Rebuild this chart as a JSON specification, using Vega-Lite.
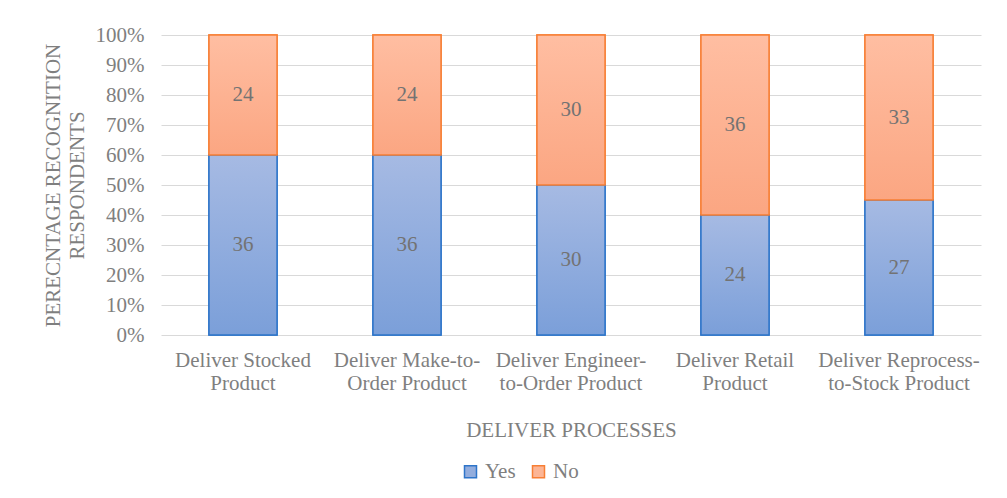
{
  "$schema": "https://vega.github.io/schema/vega-lite/v6.json",
  "width": 820,
  "height": 300,
  "autosize": {"type": "none"},
  "padding": {"left": 161, "top": 35, "right": 26, "bottom": 163},
  "background": "white",
  "config": {
    "view": {"stroke": null},
    "font": "Liberation Serif",
    "axis": {
      "labelFont": "Liberation Serif",
      "titleFont": "Liberation Serif",
      "labelColor": "#7f7f7f",
      "titleColor": "#7f7f7f",
      "labelFontSize": 21,
      "titleFontSize": 21,
      "titleFontWeight": "normal",
      "labelOverlap": false,
      "labelSeparation": 0
    },
    "axisY": {"labelOverlap": false, "labelSeparation": 0},
    "legend": {
      "labelFont": "Liberation Serif",
      "labelFontSize": 21,
      "labelColor": "#7f7f7f"
    }
  },
  "data": {
    "values": [
      {"process": "Deliver Stocked Product", "answer": "Yes", "value": 36},
      {"process": "Deliver Stocked Product", "answer": "No", "value": 24},
      {"process": "Deliver Make-to-Order Product", "answer": "Yes", "value": 36},
      {"process": "Deliver Make-to-Order Product", "answer": "No", "value": 24},
      {"process": "Deliver Engineer-to-Order Product", "answer": "Yes", "value": 30},
      {"process": "Deliver Engineer-to-Order Product", "answer": "No", "value": 30},
      {"process": "Deliver Retail Product", "answer": "Yes", "value": 24},
      {"process": "Deliver Retail Product", "answer": "No", "value": 36},
      {"process": "Deliver Reprocess-to-Stock Product", "answer": "Yes", "value": 27},
      {"process": "Deliver Reprocess-to-Stock Product", "answer": "No", "value": 33}
    ]
  },
  "transform": [
    {"stack": "value", "groupby": ["process"], "sort": [{"field": "answer", "order": "descending"}], "offset": "normalize", "as": ["y0", "y1"]}
  ],
  "encoding": {
    "x": {
      "field": "process",
      "type": "nominal",
      "sort": ["Deliver Stocked Product", "Deliver Make-to-Order Product", "Deliver Engineer-to-Order Product", "Deliver Retail Product", "Deliver Reprocess-to-Stock Product"],
      "scale": {"paddingInner": 0.585, "paddingOuter": 0.2925},
      "title": "DELIVER PROCESSES",
      "axis": {
        "labelAngle": 0,
        "domain": false,
        "ticks": false,
        "labelPadding": 14,
        "labelLineHeight": 23,
        "titlePadding": 26,
        "labelExpr": "datum.value == 'Deliver Stocked Product' ? ['Deliver Stocked', 'Product'] : datum.value == 'Deliver Make-to-Order Product' ? ['Deliver Make-to-', 'Order Product'] : datum.value == 'Deliver Engineer-to-Order Product' ? ['Deliver Engineer-', 'to-Order Product'] : datum.value == 'Deliver Retail Product' ? ['Deliver Retail', 'Product'] : ['Deliver Reprocess-', 'to-Stock Product']"
      }
    },
    "y": {
      "field": "y0",
      "type": "quantitative",
      "scale": {"domain": [0, 1], "nice": false},
      "title": ["PERECNTAGE RECOGNITION", "RESPONDENTS"],
      "axis": {
        "format": ".0%",
        "values": [0, 0.1, 0.2, 0.3, 0.4, 0.5, 0.6, 0.7, 0.8, 0.9, 1],
        "domain": false,
        "ticks": false,
        "labelPadding": 17,
        "labelBaseline": "middle",
        "gridColor": "#d9d9d9",
        "gridWidth": 1,
        "titlePadding": 8,
        "titleLineHeight": 24
      }
    }
  },
  "layer": [
    {
      "mark": {"type": "bar", "strokeWidth": 1.5},
      "encoding": {
        "y2": {"field": "y1"},
        "fill": {
          "field": "answer",
          "type": "nominal",
          "scale": {"domain": ["Yes", "No"], "range": ["#93addd", "#fcb595"]},
          "legend": {
            "title": null,
            "orient": "none",
            "direction": "horizontal",
            "legendX": 299,
            "legendY": 426,
            "symbolType": "square",
            "symbolSize": 144,
            "symbolStrokeWidth": 1.5,
            "columnPadding": 12,
            "labelOffset": 4
          }
        },
        "stroke": {
          "field": "answer",
          "type": "nominal",
          "scale": {"domain": ["Yes", "No"], "range": ["#2e75c9", "#f77f35"]},
          "legend": {
            "title": null,
            "orient": "none",
            "direction": "horizontal",
            "legendX": 299,
            "legendY": 426,
            "symbolType": "square",
            "symbolSize": 144,
            "symbolStrokeWidth": 1.5,
            "columnPadding": 12,
            "labelOffset": 4
          }
        }
      }
    },
    {
      "transform": [{"filter": "datum.answer == 'Yes'"}],
      "mark": {
        "type": "bar",
        "strokeWidth": 1.5,
        "stroke": "#2e75c9",
        "fill": {
          "gradient": "linear",
          "x1": 0, "y1": 0, "x2": 0, "y2": 1,
          "stops": [
            {"offset": 0, "color": "#a6bae3"},
            {"offset": 1, "color": "#7b9fd9"}
          ]
        }
      },
      "encoding": {
        "y2": {"field": "y1"}
      }
    },
    {
      "transform": [{"filter": "datum.answer == 'No'"}],
      "mark": {
        "type": "bar",
        "strokeWidth": 1.5,
        "stroke": "#f77f35",
        "fill": {
          "gradient": "linear",
          "x1": 0, "y1": 0, "x2": 0, "y2": 1,
          "stops": [
            {"offset": 0, "color": "#ffbea2"},
            {"offset": 1, "color": "#fba682"}
          ]
        }
      },
      "encoding": {
        "y2": {"field": "y1"}
      }
    },
    {
      "transform": [
        {"fold": ["y0", "y1"], "as": ["k", "v"]},
        {"aggregate": [{"op": "mean", "field": "v", "as": "y0"}], "groupby": ["process", "answer", "value"]}
      ],
      "mark": {"type": "text", "font": "Liberation Serif", "fontSize": 21, "color": "#737373", "baseline": "middle"},
      "encoding": {
        "text": {"field": "value", "type": "quantitative"}
      }
    }
  ]
}
